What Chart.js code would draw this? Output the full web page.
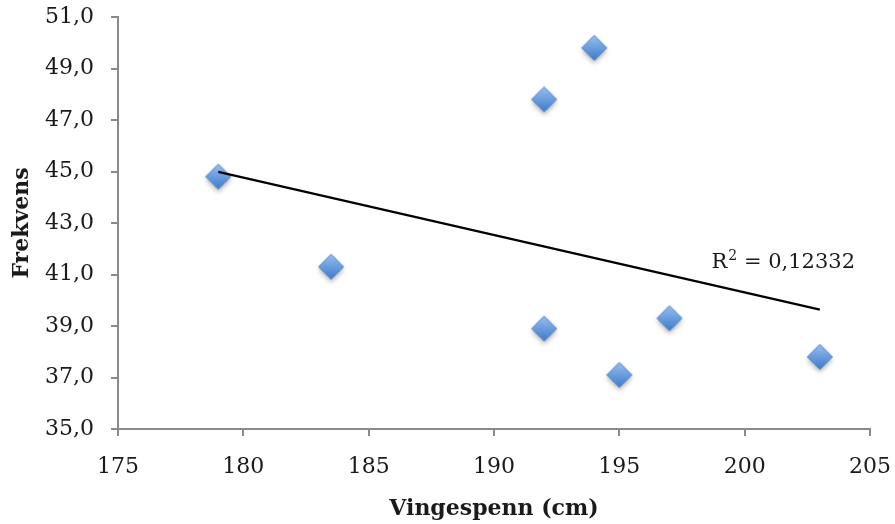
<!DOCTYPE html>
<html>
<head>
<meta charset="utf-8">
<title>Frekvens og vingespenn</title>
<script src="https://cdn.jsdelivr.net/npm/chart.js@4/dist/chart.umd.min.js"></script>
<style>
  html, body { margin: 0; padding: 0; background: #fff; }
  canvas { display: block; }
</style>
</head>
<body>
<canvas id="chart" width="895" height="524"></canvas>
<script>
// måledata
const vingespenn = [179, 183.5, 192, 192, 194, 195, 197, 203];
const frekvens = [44.8, 41.3, 47.8, 38.9, 49.8, 37.1, 39.3, 37.8];
const xTicks = [175, 180, 185, 190, 195, 200, 205];
const yTicks = [35, 37, 39, 41, 43, 45, 47, 49, 51];
const r2Value = '0,12332';

const serif = '"DejaVu Serif", "Liberation Serif", serif';
const axisGrey = '#8a8a8a';

// lineær trendlinje (minste kvadraters metode)
function trend(xs, ys) {
  const n = xs.length;
  const mx = xs.reduce((a, b) => a + b, 0) / n;
  const my = ys.reduce((a, b) => a + b, 0) / n;
  let sxy = 0, sxx = 0;
  for (let i = 0; i < n; i++) {
    sxy += (xs[i] - mx) * (ys[i] - my);
    sxx += (xs[i] - mx) * (xs[i] - mx);
  }
  const b = sxy / sxx;
  const a = my - b * mx;
  const x0 = Math.min(...xs), x1 = Math.max(...xs);
  return [{ x: x0, y: a + b * x0 }, { x: x1, y: a + b * x1 }];
}

// blå rombe med gradient og skygge
function diamond() {
  const c = document.createElement('canvas');
  c.width = 40; c.height = 40;
  const g = c.getContext('2d');
  const r = 12.5;
  g.beginPath();
  g.moveTo(20, 20 - r);
  g.lineTo(20 + r, 20);
  g.lineTo(20, 20 + r);
  g.lineTo(20 - r, 20);
  g.closePath();
  const grad = g.createLinearGradient(0, 20 - r, 0, 20 + r);
  grad.addColorStop(0, '#98bfef');
  grad.addColorStop(1, '#3b7bcb');
  g.shadowColor = 'rgba(0,0,0,0.3)';
  g.shadowBlur = 5;
  g.shadowOffsetY = 3;
  g.fillStyle = grad;
  g.fill();
  g.shadowColor = 'transparent';
  g.strokeStyle = '#4a82ca';
  g.lineWidth = 1;
  g.stroke();
  return c;
}

const points = vingespenn.map((x, i) => ({ x: x, y: frekvens[i] }));

// faste akseflater, uten ekstra luft for etikettene
function fixX(s) {
  s.height = 95;
  s.paddingLeft = 0;
  s.paddingRight = 0;
}
function fixY(s) {
  s.width = 118;
  s.paddingTop = 0;
  s.paddingBottom = 0;
}

// R² med hevet totall, høyrejustert inne i plottet
const r2Label = {
  id: 'r2Label',
  afterDraw(chart) {
    const ctx = chart.ctx;
    const area = chart.chartArea;
    const big = '21px ' + serif;
    const small = '14px ' + serif;
    const rest = ' = ' + r2Value;
    ctx.save();
    ctx.fillStyle = '#1a1a1a';
    ctx.textAlign = 'left';
    ctx.textBaseline = 'alphabetic';
    ctx.font = big;
    const wR = ctx.measureText('R').width;
    const wRest = ctx.measureText(rest).width;
    ctx.font = small;
    const w2 = ctx.measureText('2').width;
    const base = 268;
    let x = area.right - 16 - (wR + w2 + wRest);
    ctx.font = big;
    ctx.fillText('R', x, base);
    x += wR + 1;
    ctx.font = small;
    ctx.fillText('2', x, base - 8);
    x += w2;
    ctx.font = big;
    ctx.fillText(rest, x, base);
    ctx.restore();
  }
};

new Chart(document.getElementById('chart'), {
  type: 'scatter',
  data: {
    datasets: [
      {
        type: 'line',
        data: trend(vingespenn, frekvens),
        borderColor: '#000',
        borderWidth: 2.2,
        pointRadius: 0,
        fill: false,
        order: 0
      },
      {
        data: points,
        pointStyle: diamond(),
        order: 1
      }
    ]
  },
  options: {
    responsive: false,
    animation: false,
    events: [],
    layout: { padding: { left: 0, right: 25, top: 17, bottom: 0 } },
    plugins: { legend: { display: false }, tooltip: { enabled: false } },
    scales: {
      x: {
        type: 'linear',
        min: 175,
        max: 205,
        afterBuildTicks: s => { s.ticks = xTicks.map(v => ({ value: v })); },
        afterFit: fixX,
        border: { color: axisGrey, width: 2 },
        grid: { drawOnChartArea: false, drawTicks: true, tickLength: 7, color: axisGrey, lineWidth: 2 },
        ticks: { color: '#1a1a1a', font: { family: serif, size: 22 }, padding: 18 },
        title: {
          display: true,
          text: 'Vingespenn (cm)',
          color: '#1a1a1a',
          font: { family: serif, size: 22, weight: 'bold' },
          padding: { top: 2, bottom: 2 }
        }
      },
      y: {
        type: 'linear',
        min: 35,
        max: 51,
        afterBuildTicks: s => { s.ticks = yTicks.map(v => ({ value: v })); },
        afterFit: fixY,
        border: { color: axisGrey, width: 2 },
        grid: { drawOnChartArea: false, drawTicks: true, tickLength: 7, color: axisGrey, lineWidth: 2 },
        ticks: {
          color: '#1a1a1a',
          font: { family: serif, size: 22 },
          padding: 17,
          callback: v => v.toFixed(1).replace('.', ',')
        },
        title: {
          display: true,
          text: 'Frekvens',
          color: '#1a1a1a',
          font: { family: serif, size: 22, weight: 'bold' },
          padding: { top: 9, bottom: 9 }
        }
      }
    }
  },
  plugins: [r2Label]
});
</script>
</body>
</html>
